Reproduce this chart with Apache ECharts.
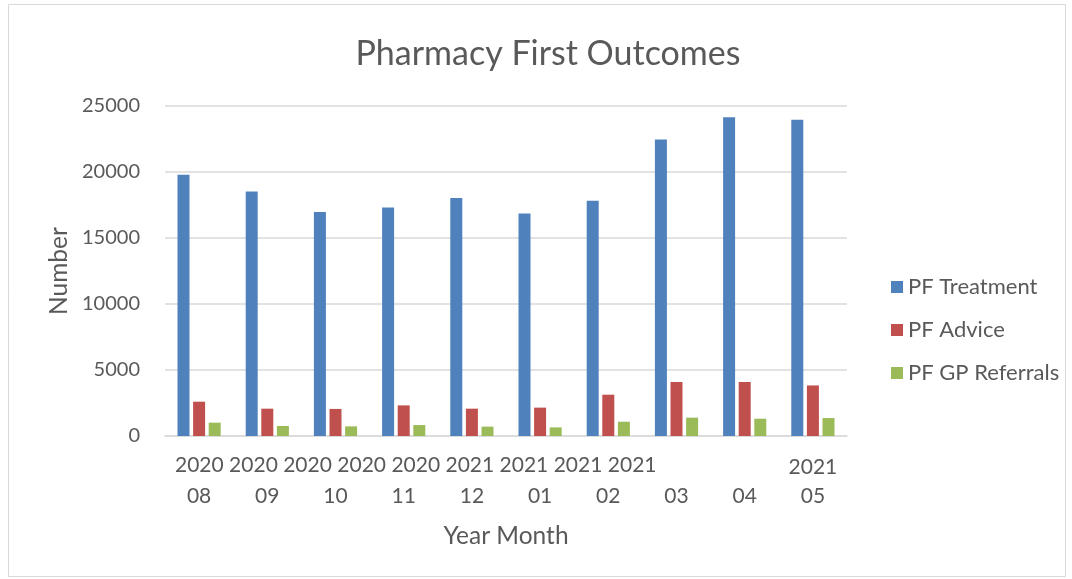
<!DOCTYPE html>
<html>
<head>
<meta charset="utf-8">
<title>Pharmacy First Outcomes</title>
<script src="https://cdn.jsdelivr.net/npm/echarts@6/dist/echarts.min.js"></script>
<style>
  html, body { margin: 0; padding: 0; background: #fff; }
  #chart { width: 1072px; height: 579px; }
</style>
</head>
<body>
<div id="chart"></div>
<script>
// Data
const categories = ['2020 08', '2020 09', '2020 10', '2020 11', '2020 12',
                    '2021 01', '2021 02', '2021 03', '2021 04', '2021 05'];
const treatment = [19800, 18530, 16970, 17320, 18030, 16860, 17830, 22470, 24140, 23960];
const advice = [2600, 2070, 2050, 2320, 2070, 2150, 3130, 4090, 4090, 3830];
const gpReferrals = [1010, 760, 730, 830, 710, 650, 1080, 1390, 1310, 1360];
const yTicks = [0, 5000, 10000, 15000, 20000, 25000];

const textColor = '#595959';
const fontFamily = 'Lato, "Open Sans", sans-serif';

// the source squeezes the year part of the first nine labels into one row
const yearRow = categories.slice(0, 9).map(c => c.split(' ')[0]).join(' ');

const chart = echarts.init(document.getElementById('chart'));
const option = {
    backgroundColor: '#fff',
    textStyle: { fontFamily: fontFamily, color: textColor },
    title: {
        text: 'Pharmacy First Outcomes',
        top: 32,
        left: 543,
        textAlign: 'center',
        textStyle: { fontSize: 34, fontWeight: 'normal', color: textColor, fontFamily: fontFamily }
    },
    legend: {
        orient: 'vertical',
        left: 886,
        top: 271,
        itemWidth: 12,
        itemHeight: 12,
        itemGap: 21,
        icon: 'rect',
        textStyle: { fontSize: 22, color: textColor, fontFamily: fontFamily },
        data: ['PF Treatment', 'PF Advice', 'PF GP Referrals']
    },
    grid: { left: 165, right: 225, top: 106, bottom: 143 },
    xAxis: {
        type: 'category',
        data: categories,
        name: 'Year Month',
        nameLocation: 'middle',
        nameGap: 88,
        nameTextStyle: { fontSize: 24.5, color: textColor },
        axisLine: { lineStyle: { color: '#d9d9d9', width: 1.5 } },
        axisTick: { show: false },
        axisLabel: {
            interval: 0,
            fontSize: 21,
            color: textColor,
            lineHeight: 29,
            margin: 17,
            formatter: function(value, idx) {
                const parts = value.split(' ');
                return idx === categories.length - 1 ? parts[0] + '\n' + parts[1] : ' \n' + parts[1];
            }
        }
    },
    yAxis: {
        type: 'value',
        min: yTicks[0],
        max: yTicks[yTicks.length - 1],
        interval: yTicks[1] - yTicks[0],
        name: 'Number',
        nameLocation: 'middle',
        nameGap: 92,
        nameTextStyle: { fontSize: 24.5, color: textColor },
        axisLine: { show: false },
        axisTick: { show: false },
        axisLabel: { fontSize: 20, color: textColor, margin: 25, formatter: v => String(v) },
        splitLine: { lineStyle: { color: '#d9d9d9', width: 1.5 } }
    },
    graphic: [
        {
            type: 'rect',
            shape: { x: 8.5, y: 4.5, width: 1057, height: 572 },
            style: { fill: 'none', stroke: '#d9d9d9', lineWidth: 1 },
            silent: true
        },
        {
            type: 'text',
            left: 175,
            top: 455,
            style: { text: yearRow, fontSize: 21, fill: textColor, fontFamily: fontFamily }
        }
    ],
    series: [
        {
            name: 'PF Treatment',
            type: 'bar',
            data: treatment,
            barWidth: 12,
            barGap: '30%',
            itemStyle: { color: '#4F81BD' }
        },
        {
            name: 'PF Advice',
            type: 'bar',
            data: advice,
            barWidth: 12,
            itemStyle: { color: '#C0504D' }
        },
        {
            name: 'PF GP Referrals',
            type: 'bar',
            data: gpReferrals,
            barWidth: 12,
            itemStyle: { color: '#9BBB59' }
        }
    ]
};
chart.setOption(option);
</script>
</body>
</html>
